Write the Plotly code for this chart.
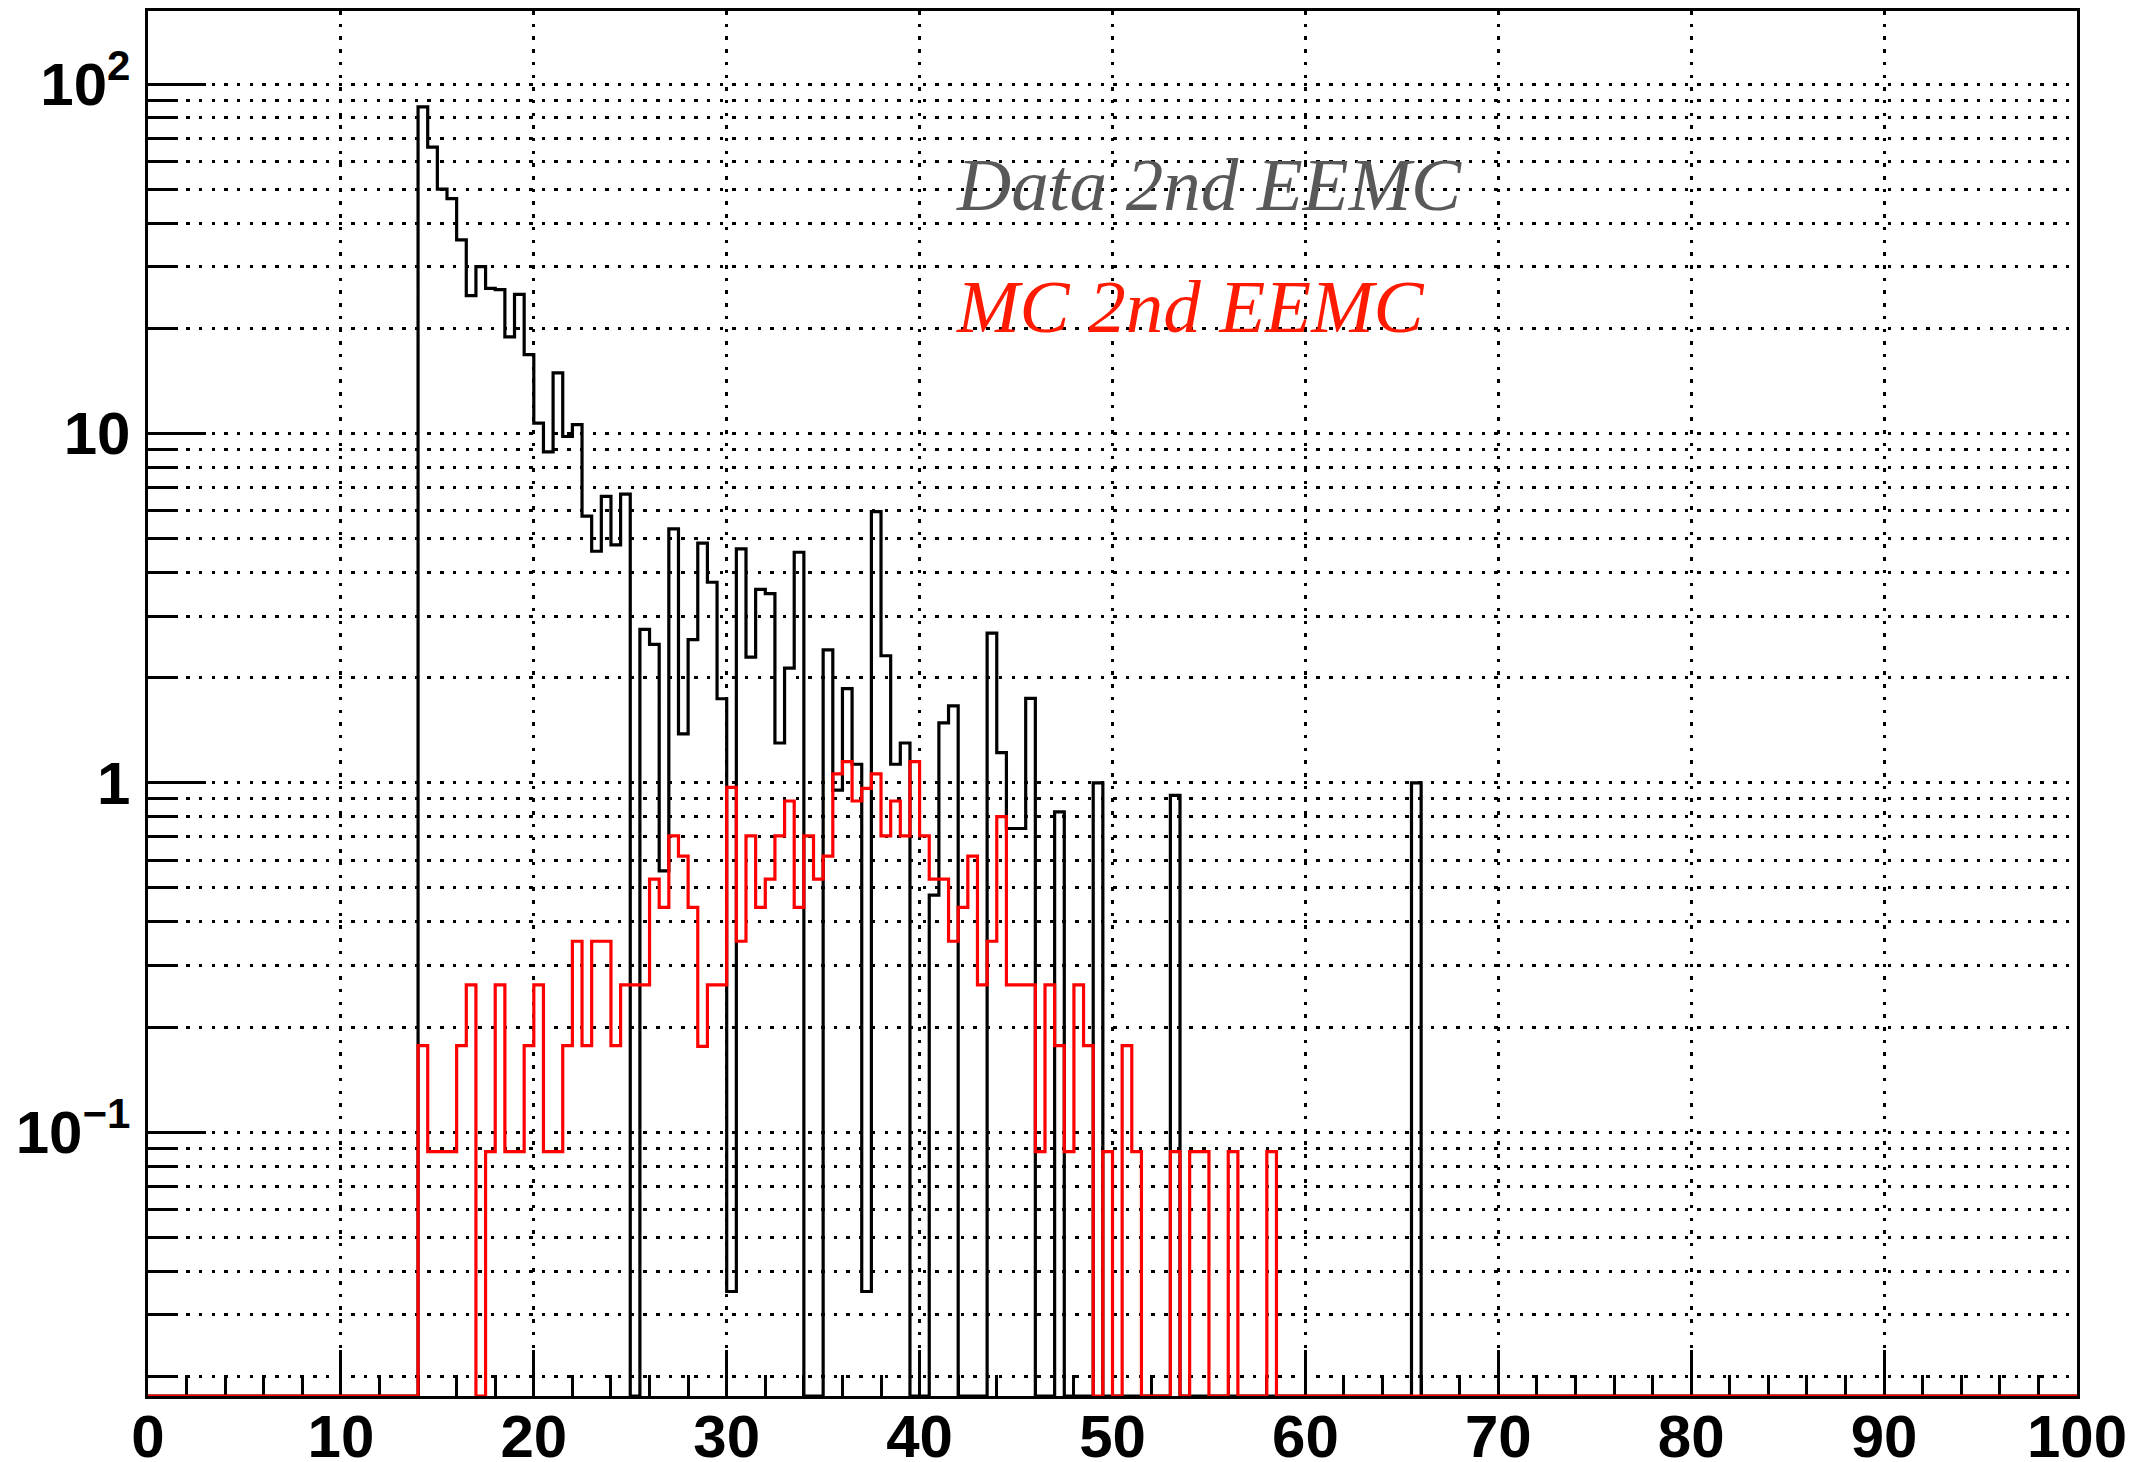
import numpy as np
import plotly.graph_objects as go

# ---------------- data (bin width 0.5, x from 0 to 100) ----------------
bin_width = 0.5
x_lo, x_hi = 0.0, 100.0
first_bin_edge = 14.0  # both series start at this bin edge

# "Data 2nd EEMC" bin contents, bins starting at 14.0
data_counts = [
    86, 66, 50, 47, 35.8, 24.8, 30, 26, 25.8, 18.9,          # 14.0 - 18.5
    25, 16.8, 10.7, 8.85, 14.9, 9.8, 10.6, 5.8, 4.6, 6.6,     # 19.0 - 23.5
    4.8, 6.7, 0, 2.75, 2.49, 0.56, 5.33, 1.38, 2.57, 4.85,    # 24.0 - 28.5
    3.75, 1.74, 0.035, 4.67, 2.29, 3.58, 3.48, 1.3, 2.13, 4.57,  # 29.0 - 33.5
    0, 0, 2.4, 0.953, 1.86, 1.13, 0.035, 5.97, 2.31, 1.13,    # 34.0 - 38.5
    1.3, 0, 0, 0.477, 1.485, 1.66, 0, 0, 0, 2.68,             # 39.0 - 43.5
    1.22, 0.74, 0.74, 1.745, 0, 0, 0.826, 0, 0, 0,            # 44.0 - 48.5
    1.0, 0, 0, 0, 0, 0, 0, 0, 0.92, 0,                        # 49.0 - 53.5
    0, 0, 0, 0, 0, 0, 0, 0, 0, 0,                             # 54.0 - 58.5
    0, 0, 0, 0, 0, 0, 0, 0, 0, 0,                             # 59.0 - 63.5
    0, 0, 0, 1.0,                                             # 64.0 - 65.5
]

# "MC 2nd EEMC" bin contents, bins starting at 14.0
mc_counts = [
    0.177, 0.088, 0.088, 0.088, 0.177, 0.264, 0, 0.088, 0.264, 0.088,   # 14.0 - 18.5
    0.088, 0.177, 0.264, 0.088, 0.088, 0.177, 0.352, 0.177, 0.352, 0.352,  # 19.0 - 23.5
    0.177, 0.264, 0.264, 0.264, 0.53, 0.44, 0.705, 0.617, 0.44, 0.176,  # 24.0 - 28.5
    0.264, 0.264, 0.97, 0.352, 0.705, 0.44, 0.53, 0.705, 0.887, 0.44,   # 29.0 - 33.5
    0.705, 0.53, 0.617, 1.06, 1.15, 0.887, 0.964, 1.06, 0.705, 0.887,   # 34.0 - 38.5
    0.705, 1.15, 0.705, 0.53, 0.53, 0.352, 0.44, 0.617, 0.264, 0.352,   # 39.0 - 43.5
    0.8, 0.264, 0.264, 0.264, 0.088, 0.264, 0.177, 0.088, 0.264, 0.177, # 44.0 - 48.5
    0, 0.088, 0, 0.177, 0.088, 0, 0, 0, 0.088, 0,                       # 49.0 - 53.5
    0.088, 0.088, 0, 0, 0.088, 0, 0, 0, 0.088,                          # 54.0 - 58.0
]

data_label = "Data 2nd EEMC"
mc_label = "MC 2nd EEMC"

y_min, y_max = 0.01758, 161.8
x_tick_labels = ["0", "10", "20", "30", "40", "50", "60", "70", "80", "90", "100"]

# ---------------- build step histograms ----------------
n_bins = int(round((x_hi - x_lo) / bin_width))
edges = np.linspace(x_lo, x_hi, n_bins + 1)
start = int(round((first_bin_edge - x_lo) / bin_width))


def full_hist(counts):
    h = np.zeros(n_bins)
    h[start:start + len(counts)] = counts
    # empty bins are drawn on the frame floor (as ROOT does on log scale)
    h = np.where(h > 0, h, y_min)
    return np.append(h, h[-1])


fig = go.Figure()
fig.add_trace(go.Scatter(x=edges, y=full_hist(data_counts), mode="lines",
                         line=dict(color="black", width=3.2, shape="hv"),
                         name=data_label, showlegend=False))
fig.add_trace(go.Scatter(x=edges, y=full_hist(mc_counts), mode="lines",
                         line=dict(color="#ff0000", width=3.2, shape="hv"),
                         name=mc_label, showlegend=False))

grid_dash = "3.5px,9.2px"
grid_w = 3

fig.update_xaxes(
    range=[x_lo, x_hi], tickmode="array",
    tickvals=[float(t) for t in x_tick_labels], ticktext=x_tick_labels,
    ticks="inside", ticklen=46, tickwidth=2.5, tickcolor="black",
    showgrid=True, gridcolor="black", gridwidth=grid_w, griddash=grid_dash,
    minor=dict(dtick=2, tick0=0, ticks="inside", ticklen=21, tickwidth=2.5,
               tickcolor="black", showgrid=False),
    showline=True, linecolor="black", linewidth=3, mirror=True,
    zeroline=False, layer="below traces", automargin=False,
    ticklabelstandoff=-14,
    tickfont=dict(family="Liberation Sans", size=60, color="black", weight="bold"),
)
fig.update_yaxes(
    type="log", range=[np.log10(y_min), np.log10(y_max)],
    dtick=1, exponentformat="power",
    ticks="inside", ticklen=58, tickwidth=2.5, tickcolor="black",
    showgrid=True, gridcolor="black", gridwidth=grid_w, griddash=grid_dash,
    minor=dict(dtick="D1", ticks="inside", ticklen=30, tickwidth=2.5,
               tickcolor="black", showgrid=True, gridcolor="black",
               gridwidth=grid_w, griddash=grid_dash),
    showline=True, linecolor="black", linewidth=3, mirror=True,
    zeroline=False, layer="below traces", automargin=False,
    ticklabelstandoff=5,
    tickfont=dict(family="Liberation Sans", size=48, color="black", weight="bold"),
)

fig.add_annotation(x=41.76, y=1.711, xref="x", yref="y", xanchor="left", yanchor="middle",
                   text="<i>" + data_label + "</i>", showarrow=False,
                   font=dict(family="Liberation Serif", size=75, color="#595959"))
fig.add_annotation(x=41.76, y=1.3627, xref="x", yref="y", xanchor="left", yanchor="middle",
                   text="<i>" + mc_label + "</i>", showarrow=False,
                   font=dict(family="Liberation Serif", size=75, color="#ff1a00"))

fig.update_layout(
    width=2146, height=1462,
    margin=dict(l=148, r=69, t=11, b=66, pad=0),
    paper_bgcolor="white", plot_bgcolor="white",
    showlegend=False,
)

fig.write_html("out.html")
